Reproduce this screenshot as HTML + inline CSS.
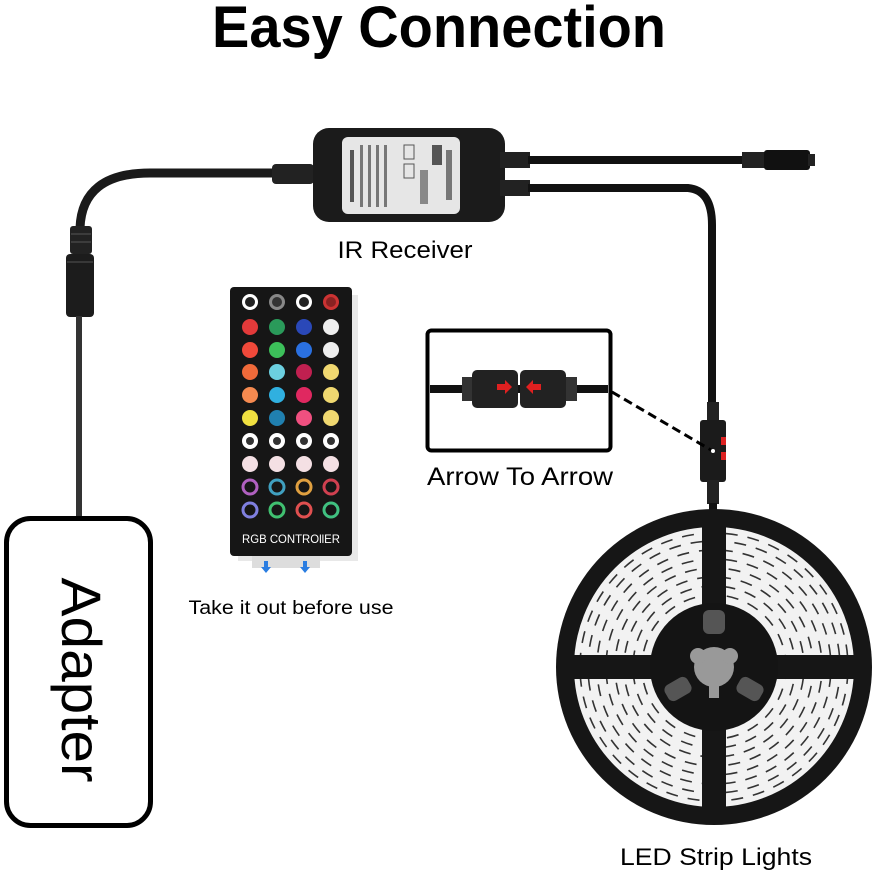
<!DOCTYPE html>
<html><head><meta charset="utf-8"><style>
html,body{margin:0;padding:0;background:#fff;}
svg{display:block;}
text{font-family:"Liberation Sans",sans-serif;}
</style></head><body>
<svg width="888" height="873" viewBox="0 0 888 873" xmlns="http://www.w3.org/2000/svg">
<rect width="888" height="873" fill="#fff"/>
<text x="439" y="47" text-anchor="middle" font-size="58" font-weight="bold" fill="#000" textLength="454" lengthAdjust="spacingAndGlyphs">Easy Connection</text>

<!-- left cable -->
<path d="M300 173 L150 173 Q82 173 80 228" fill="none" stroke="#1a1a1a" stroke-width="9"/>
<rect x="272" y="164" width="42" height="20" rx="4" fill="#222"/>
<rect x="70" y="226" width="22" height="28" rx="3" fill="#222"/>
<rect x="66" y="254" width="28" height="63" rx="4" fill="#1c1c1c"/>
<g stroke="#555" stroke-width="1"><line x1="71" y1="234" x2="91" y2="234"/><line x1="71" y1="242" x2="91" y2="242"/><line x1="67" y1="262" x2="93" y2="262"/></g>
<line x1="79" y1="316" x2="79" y2="520" stroke="#333" stroke-width="6"/>

<!-- adapter -->
<rect x="6.5" y="518.5" width="144" height="307" rx="24" fill="#fff" stroke="#000" stroke-width="5"/>
<text transform="translate(62 680) rotate(90)" text-anchor="middle" font-size="56" fill="#000" textLength="205" lengthAdjust="spacingAndGlyphs">Adapter</text>

<!-- IR receiver -->
<rect x="313" y="128" width="192" height="94" rx="16" fill="#1b1b1b"/>
<rect x="342" y="137" width="118" height="77" rx="6" fill="#e6e6e6"/>
<g fill="#444" font-size="6">
<rect x="350" y="150" width="4" height="52" fill="#555"/>
<rect x="360" y="145" width="3" height="62" fill="#777"/>
<rect x="368" y="145" width="3" height="62" fill="#777"/>
<rect x="376" y="145" width="3" height="62" fill="#777"/>
<rect x="384" y="145" width="3" height="62" fill="#777"/>
<rect x="404" y="145" width="10" height="14" fill="none" stroke="#555"/>
<rect x="404" y="164" width="10" height="14" fill="none" stroke="#555"/>
<rect x="432" y="145" width="10" height="20" fill="#555"/>
<rect x="420" y="170" width="8" height="34" fill="#888"/>
<rect x="446" y="150" width="6" height="50" fill="#777"/>
</g>
<rect x="500" y="152" width="30" height="16" fill="#222"/>
<rect x="500" y="180" width="30" height="16" fill="#222"/>
<line x1="528" y1="160" x2="750" y2="160" stroke="#111" stroke-width="8"/>
<rect x="742" y="152" width="24" height="16" fill="#222"/>
<rect x="764" y="150" width="46" height="20" rx="3" fill="#111"/>
<rect x="808" y="154" width="7" height="12" fill="#222"/>
<path d="M528 188 L688 188 Q712 190 712 225 L712 410" fill="none" stroke="#111" stroke-width="8"/>
<text x="405" y="258" text-anchor="middle" font-size="24" fill="#000" textLength="135" lengthAdjust="spacingAndGlyphs">IR Receiver</text>

<!-- strip connector -->
<rect x="707" y="402" width="12" height="26" fill="#222"/>
<rect x="700" y="420" width="26" height="62" rx="3" fill="#1b1b1b"/>
<rect x="721" y="437" width="5" height="8" fill="#d22"/>
<rect x="721" y="452" width="5" height="8" fill="#d22"/>
<circle cx="713" cy="451" r="2" fill="#fff"/>
<rect x="707" y="480" width="12" height="24" fill="#222"/>
<line x1="713" y1="503" x2="713" y2="515" stroke="#111" stroke-width="8"/>

<!-- inset -->
<rect x="427.5" y="330.5" width="183" height="120" rx="4" fill="#fff" stroke="#000" stroke-width="4"/>
<line x1="430" y1="389" x2="608" y2="389" stroke="#111" stroke-width="8"/>
<rect x="462" y="377" width="14" height="24" fill="#333"/>
<rect x="563" y="377" width="14" height="24" fill="#333"/>
<rect x="472" y="370" width="46" height="38" rx="5" fill="#222"/>
<rect x="520" y="370" width="46" height="38" rx="5" fill="#222"/>
<path d="M497 384 h8 v-4 l7 7 -7 7 v-4 h-8z" fill="#e02020"/>
<path d="M541 384 h-8 v-4 l-7 7 7 7 v-4 h8z" fill="#e02020"/>
<line x1="612" y1="392" x2="711" y2="450" stroke="#000" stroke-width="3" stroke-dasharray="9 5"/>
<text x="520" y="485" text-anchor="middle" font-size="25" fill="#000" textLength="186" lengthAdjust="spacingAndGlyphs">Arrow To Arrow</text>

<!-- remote -->
<rect x="238" y="295" width="120" height="266" fill="#d8d8d8" opacity="0.6"/>
<rect x="230" y="287" width="122" height="269" rx="4" fill="#161616"/>
<rect x="252" y="556" width="68" height="12" fill="#ddd"/>
<g fill="#2a7de1">
<path d="M264 561 h4 v6 h3 l-5 6 -5 -6 h3z"/>
<path d="M303 561 h4 v6 h3 l-5 6 -5 -6 h3z"/>
</g>
<g>
<circle cx="250" cy="302" r="8" fill="#fff"/><circle cx="250" cy="302" r="5" fill="#222"/>
<circle cx="277" cy="302" r="8" fill="#888"/><circle cx="277" cy="302" r="5" fill="#333"/>
<circle cx="304" cy="302" r="8" fill="#fff"/><circle cx="304" cy="302" r="5" fill="#222"/>
<circle cx="331" cy="302" r="8" fill="#c33"/><circle cx="331" cy="302" r="5" fill="#822"/>
<circle cx="250" cy="327" r="8" fill="#e23a3a"/><circle cx="277" cy="327" r="8" fill="#2a9a5a"/><circle cx="304" cy="327" r="8" fill="#2a48b8"/><circle cx="331" cy="327" r="8" fill="#eee"/>
<circle cx="250" cy="350" r="8" fill="#f0493a"/><circle cx="277" cy="350" r="8" fill="#3cc05a"/><circle cx="304" cy="350" r="8" fill="#2a70e0"/><circle cx="331" cy="350" r="8" fill="#eee"/>
<circle cx="250" cy="372" r="8" fill="#f06a3a"/><circle cx="277" cy="372" r="8" fill="#6cd0e0"/><circle cx="304" cy="372" r="8" fill="#c02050"/><circle cx="331" cy="372" r="8" fill="#f0d870"/>
<circle cx="250" cy="395" r="8" fill="#f58a50"/><circle cx="277" cy="395" r="8" fill="#30b0e0"/><circle cx="304" cy="395" r="8" fill="#e02860"/><circle cx="331" cy="395" r="8" fill="#f0d870"/>
<circle cx="250" cy="418" r="8" fill="#f0e040"/><circle cx="277" cy="418" r="8" fill="#2080b0"/><circle cx="304" cy="418" r="8" fill="#f05080"/><circle cx="331" cy="418" r="8" fill="#f0d870"/>
<circle cx="250" cy="441" r="8" fill="#fff"/><circle cx="277" cy="441" r="8" fill="#fff"/><circle cx="304" cy="441" r="8" fill="#fff"/><circle cx="331" cy="441" r="8" fill="#fff"/>
<circle cx="250" cy="441" r="4" fill="#333"/><circle cx="277" cy="441" r="4" fill="#333"/><circle cx="304" cy="441" r="4" fill="#333"/><circle cx="331" cy="441" r="4" fill="#333"/>
<circle cx="250" cy="464" r="8" fill="#f4e0e4"/><circle cx="277" cy="464" r="8" fill="#f4e0e4"/><circle cx="304" cy="464" r="8" fill="#f4e0e4"/><circle cx="331" cy="464" r="8" fill="#f4e0e4"/>
<g fill="none" stroke-width="3">
<circle cx="250" cy="487" r="7" stroke="#b060c0"/><circle cx="277" cy="487" r="7" stroke="#40a0c0"/><circle cx="304" cy="487" r="7" stroke="#e0a040"/><circle cx="331" cy="487" r="7" stroke="#d04050"/>
<circle cx="250" cy="510" r="7" stroke="#8080e0"/><circle cx="277" cy="510" r="7" stroke="#40c070"/><circle cx="304" cy="510" r="7" stroke="#e05050"/><circle cx="331" cy="510" r="7" stroke="#40c080"/>
</g>
</g>
<text x="291" y="543" text-anchor="middle" font-size="12" fill="#fff" font-family="Liberation Mono" textLength="98" lengthAdjust="spacingAndGlyphs">RGB CONTROllER</text>
<text x="291" y="614" text-anchor="middle" font-size="19" fill="#000" textLength="205" lengthAdjust="spacingAndGlyphs">Take it out before use</text>

<!-- reel -->
<circle cx="714" cy="667" r="158" fill="#161616"/>
<circle cx="714" cy="667" r="101" fill="none" stroke="#f2f2f2" stroke-width="78"/>
<g stroke="#333" stroke-width="1.6" fill="none" stroke-dasharray="12 10">
<circle cx="714" cy="667" r="72"/><circle cx="714" cy="667" r="81" stroke-dashoffset="5"/>
<circle cx="714" cy="667" r="90" stroke-dashoffset="11"/><circle cx="714" cy="667" r="99" stroke-dashoffset="3"/>
<circle cx="714" cy="667" r="108" stroke-dashoffset="8"/><circle cx="714" cy="667" r="117" stroke-dashoffset="14"/>
<circle cx="714" cy="667" r="126" stroke-dashoffset="2"/><circle cx="714" cy="667" r="134" stroke-dashoffset="17"/>
</g>
<g stroke="#161616" stroke-width="24">
<line x1="714" y1="520" x2="714" y2="814"/>
<line x1="567" y1="667" x2="861" y2="667"/>
</g>
<circle cx="714" cy="667" r="64" fill="#141414"/>
<rect x="703" y="610" width="22" height="24" rx="6" fill="#555"/>
<rect x="665" y="680" width="26" height="18" rx="6" fill="#555" transform="rotate(-30 678 689)"/>
<rect x="737" y="680" width="26" height="18" rx="6" fill="#555" transform="rotate(30 750 689)"/>
<circle cx="714" cy="667" r="20" fill="#999"/>
<circle cx="698" cy="656" r="8" fill="#999"/><circle cx="730" cy="656" r="8" fill="#999"/><rect x="709" y="680" width="10" height="18" fill="#999"/>
<text x="716" y="865" text-anchor="middle" font-size="24" fill="#000" textLength="192" lengthAdjust="spacingAndGlyphs">LED Strip Lights</text>
</svg>
</body></html>
